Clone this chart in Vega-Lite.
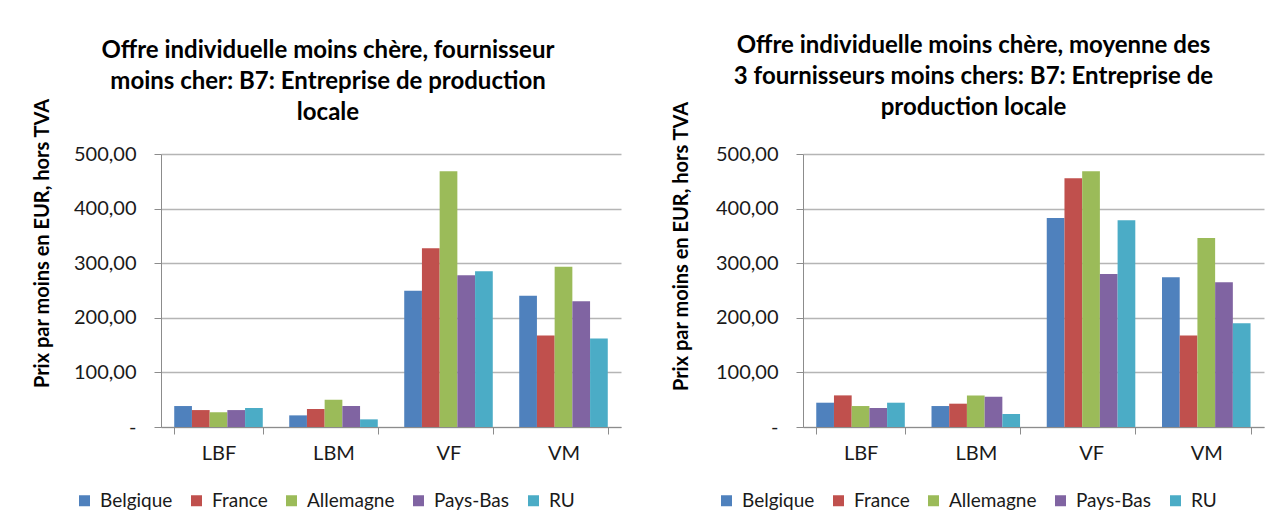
{
  "$schema": "https://vega.github.io/schema/vega-lite/v6.json",
  "background": "white",
  "padding": {"left": 32, "top": 33, "right": 5, "bottom": 5},
  "datasets": {
    "left": [
      {"cat": "LBF", "pays": "Belgique", "prix": 38.4},
      {"cat": "LBF", "pays": "France", "prix": 31},
      {"cat": "LBF", "pays": "Allemagne", "prix": 26.8},
      {"cat": "LBF", "pays": "Pays-Bas", "prix": 31},
      {"cat": "LBF", "pays": "RU", "prix": 34.8},
      {"cat": "LBM", "pays": "Belgique", "prix": 21.3},
      {"cat": "LBM", "pays": "France", "prix": 33},
      {"cat": "LBM", "pays": "Allemagne", "prix": 50},
      {"cat": "LBM", "pays": "Pays-Bas", "prix": 38.4},
      {"cat": "LBM", "pays": "RU", "prix": 14},
      {"cat": "VF", "pays": "Belgique", "prix": 249.4},
      {"cat": "VF", "pays": "France", "prix": 327.4},
      {"cat": "VF", "pays": "Allemagne", "prix": 468.3},
      {"cat": "VF", "pays": "Pays-Bas", "prix": 278},
      {"cat": "VF", "pays": "RU", "prix": 285.4},
      {"cat": "VM", "pays": "Belgique", "prix": 240.2},
      {"cat": "VM", "pays": "France", "prix": 167.7},
      {"cat": "VM", "pays": "Allemagne", "prix": 293.3},
      {"cat": "VM", "pays": "Pays-Bas", "prix": 230.5},
      {"cat": "VM", "pays": "RU", "prix": 162.2}
    ],
    "right": [
      {"cat": "LBF", "pays": "Belgique", "prix": 44.5},
      {"cat": "LBF", "pays": "France", "prix": 57.9},
      {"cat": "LBF", "pays": "Allemagne", "prix": 38.4},
      {"cat": "LBF", "pays": "Pays-Bas", "prix": 34.8},
      {"cat": "LBF", "pays": "RU", "prix": 44.5},
      {"cat": "LBM", "pays": "Belgique", "prix": 38.4},
      {"cat": "LBM", "pays": "France", "prix": 42.7},
      {"cat": "LBM", "pays": "Allemagne", "prix": 57.9},
      {"cat": "LBM", "pays": "Pays-Bas", "prix": 55.5},
      {"cat": "LBM", "pays": "RU", "prix": 23.8},
      {"cat": "VF", "pays": "Belgique", "prix": 383},
      {"cat": "VF", "pays": "France", "prix": 455.5},
      {"cat": "VF", "pays": "Allemagne", "prix": 468.3},
      {"cat": "VF", "pays": "Pays-Bas", "prix": 280},
      {"cat": "VF", "pays": "RU", "prix": 378.7},
      {"cat": "VM", "pays": "Belgique", "prix": 274.4},
      {"cat": "VM", "pays": "France", "prix": 167.7},
      {"cat": "VM", "pays": "Allemagne", "prix": 346.3},
      {"cat": "VM", "pays": "Pays-Bas", "prix": 265.2},
      {"cat": "VM", "pays": "RU", "prix": 190.2}
    ]
  },
  "config": {
    "font": "Lato",
    "view": {"stroke": null},
    "axis": {
      "labelFont": "Lato",
      "labelFontSize": 20,
      "labelColor": "#1a1a1a",
      "domainColor": "#8c8c8c",
      "tickColor": "#8c8c8c",
      "tickSize": 7,
      "gridColor": "#b5b5b5",
      "gridWidth": 1.3
    },
    "title": {
      "font": "Lato",
      "fontSize": 24,
      "fontWeight": "bold",
      "color": "#000000",
      "lineHeight": 31,
      "anchor": "middle",
      "frame": "group",
      "baseline": "top"
    },
    "legend": {
      "labelFont": "Lato",
      "labelFontSize": 19,
      "labelColor": "#1a1a1a",
      "symbolType": "square",
      "symbolSize": 121,
      "symbolStrokeWidth": 0,
      "labelOffset": 6,
      "columnPadding": 14,
      "direction": "horizontal",
      "orient": "none",
      "title": null
    }
  },
  "spacing": 50,
  "resolve": {"legend": {"color": "independent"}, "scale": {"color": "independent"}},
  "hconcat": [
    {
      "width": 460,
      "height": 273,
      "title": {
        "text": ["Offre individuelle moins chère, fournisseur", "moins cher: B7: Entreprise de production", "locale"],
        "dx": -63,
        "offset": -27
      },
      "data": {"name": "left"},
      "mark": {"type": "bar"},
      "encoding": {
        "x": {
          "field": "cat", "type": "nominal", "sort": ["LBF", "LBM", "VF", "VM"],
          "scale": {"paddingInner": 0.23, "paddingOuter": 0.115},
          "axis": {"title": null, "labelAngle": 0, "tickBand": "extent", "labelPadding": 9, "grid": false}
        },
        "xOffset": {"field": "pays", "type": "nominal", "sort": ["Belgique", "France", "Allemagne", "Pays-Bas", "RU"], "scale": {"paddingInner": 0, "paddingOuter": 0}},
        "y": {
          "field": "prix", "type": "quantitative",
          "scale": {"domain": [0, 500], "nice": false},
          "axis": {
            "values": [0, 100, 200, 300, 400, 500],
            "labelExpr": "datum.value == 0 ? '-\u00a0\u00a0' : replace(format(datum.value, '.2f'), '.', ',')",
            "labelPadding": 18,
            "title": "Prix par moins en EUR, hors TVA",
            "titleFont": "Lato",
            "titleFontSize": 20,
            "titleFontWeight": "bold",
            "titleColor": "#000000",
            "titleAngle": -90,
            "titleAlign": "center",
            "titleBaseline": "bottom",
            "titleX": -109,
            "titleY": 89
          }
        },
        "color": {
          "field": "pays", "type": "nominal",
          "sort": ["Belgique", "France", "Allemagne", "Pays-Bas", "RU"],
          "scale": {"domain": ["Belgique", "France", "Allemagne", "Pays-Bas", "RU"], "range": ["#4f81bd", "#c0504d", "#9bbb59", "#8064a2", "#4bacc6"]},
          "legend": {"legendX": -86, "legendY": 337}
        }
      }
    },
    {
      "width": 461,
      "height": 273,
      "title": {
        "text": ["Offre individuelle moins chère, moyenne des", "3 fournisseurs moins chers: B7: Entreprise de", "production locale"],
        "dx": -60,
        "dy": -8,
        "offset": -27
      },
      "data": {"name": "right"},
      "mark": {"type": "bar"},
      "encoding": {
        "x": {
          "field": "cat", "type": "nominal", "sort": ["LBF", "LBM", "VF", "VM"],
          "scale": {"paddingInner": 0.23, "paddingOuter": 0.115},
          "axis": {"title": null, "labelAngle": 0, "tickBand": "extent", "labelPadding": 9, "grid": false}
        },
        "xOffset": {"field": "pays", "type": "nominal", "sort": ["Belgique", "France", "Allemagne", "Pays-Bas", "RU"], "scale": {"paddingInner": 0, "paddingOuter": 0}},
        "y": {
          "field": "prix", "type": "quantitative",
          "scale": {"domain": [0, 500], "nice": false},
          "axis": {
            "values": [0, 100, 200, 300, 400, 500],
            "labelExpr": "datum.value == 0 ? '-\u00a0\u00a0' : replace(format(datum.value, '.2f'), '.', ',')",
            "labelPadding": 18,
            "title": "Prix par moins en EUR, hors TVA",
            "titleFont": "Lato",
            "titleFontSize": 20,
            "titleFontWeight": "bold",
            "titleColor": "#000000",
            "titleAngle": -90,
            "titleAlign": "center",
            "titleBaseline": "bottom",
            "titleX": -112,
            "titleY": 92
          }
        },
        "color": {
          "field": "pays", "type": "nominal",
          "sort": ["Belgique", "France", "Allemagne", "Pays-Bas", "RU"],
          "scale": {"domain": ["Belgique", "France", "Allemagne", "Pays-Bas", "RU"], "range": ["#4f81bd", "#c0504d", "#9bbb59", "#8064a2", "#4bacc6"]},
          "legend": {"legendX": -86, "legendY": 337}
        }
      }
    }
  ]
}
